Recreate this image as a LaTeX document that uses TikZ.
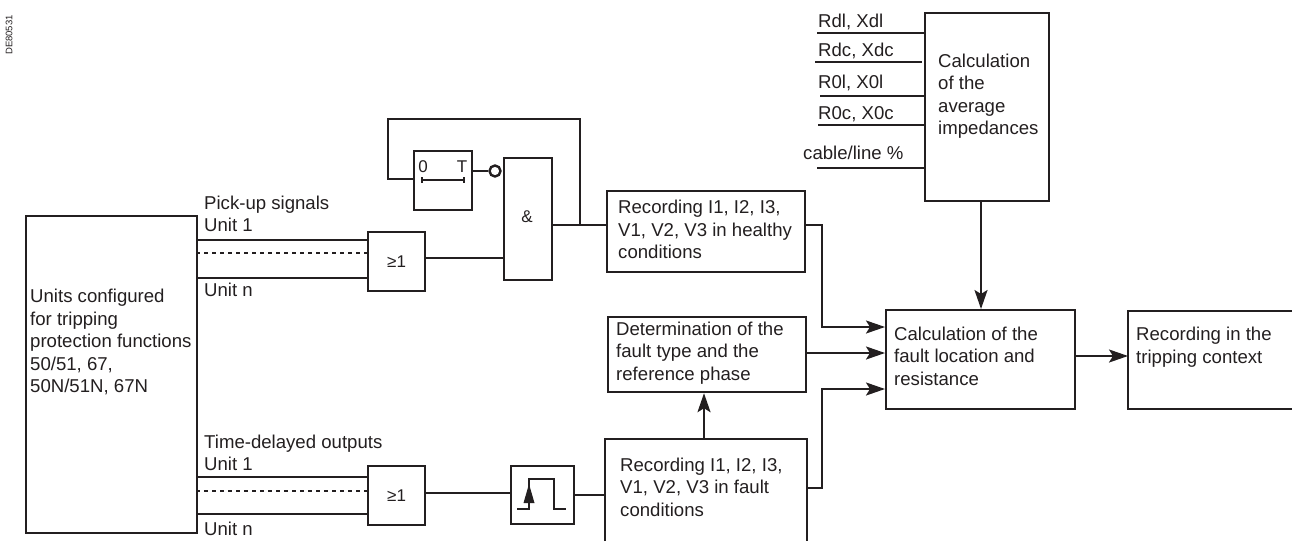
\documentclass[tikz,border=0pt]{standalone}
\usepackage{fontspec}
\setmainfont{Liberation Sans}
\usetikzlibrary{arrows.meta}
\definecolor{ink}{RGB}{35,31,32}
\tikzset{
 x=1pt,y=-1pt,
 box/.style={draw=ink,line width=2.2pt,inner sep=0pt,fill=white},
 wire/.style={draw=ink,line width=2.2pt},
 arrow/.style={wire,-{Stealth[length=19pt,width=13pt,inset=4pt]}},
 lbl/.style={inner sep=0pt,anchor=west,align=left,font=\fontsize{18.6}{22.5}\selectfont,text=ink},
 sym/.style={inner sep=0pt,anchor=center,font=\fontsize{17}{18}\selectfont,text=ink},
 thinwire/.style={draw=ink,line width=1.5pt},
}
\newcommand{\bx}[5]{\node[box,minimum width=#4pt-#2pt,minimum height=#5pt-#3pt,anchor=north west] (#1) at (#2,#3) {};}
\begin{document}
\begin{tikzpicture}
\useasboundingbox (0,0) rectangle (1292,541);
\bx{left}{25}{215}{196}{532}
\bx{ortop}{367}{231}{424}{290}
\bx{orbot}{367}{465}{424}{524}
\bx{timer}{413}{150}{471}{209}
\bx{and}{503}{157}{551}{279}
\bx{rech}{606}{190}{804}{271}
\bx{det}{607}{316}{805}{391}
\bx{pulse}{510}{465}{573}{523}
\bx{calc}{885}{309}{1074}{408}
\bx{avg}{924}{12}{1048}{200}
\coordinate (fl) at (605,541);
\coordinate (fr) at (807,541);
\coordinate (ftl) at (605,439);
\coordinate (ftr) at (807,439);
\draw[wire] (fl) -- (ftl) -- (ftr) -- (fr);
\coordinate (trt) at (1292,311);
\coordinate (trtl) at (1128,311);
\coordinate (trbl) at (1128,409);
\coordinate (trb) at (1292,409);
\draw[wire] (trt) -- (trtl) -- (trbl) -- (trb);
\node[lbl] (t1) at (30,342) {Units configured\\for tripping\\protection functions\\50/51, 67,\\50N/51N, 67N};
\node[sym] (or1t) at (ortop) {≥1};
\node[sym] (or2t) at (orbot) {≥1};
\node[sym] (andt) at (527,217) {\&};
\node[lbl] (t2) at (618,229.5) {Recording I1, I2, I3,\\V1, V2, V3 in healthy\\conditions};
\node[lbl] (t3) at (616,353) {Determination of the\\fault type and the\\reference phase};
\node[lbl] (t4) at (620,487) {Recording I1, I2, I3,\\V1, V2, V3 in fault\\conditions};
\node[lbl] (t5) at (894,356) {Calculation of the\\fault location and\\resistance};
\node[lbl] (t6) at (1136,347) {Recording in the\\tripping context};
\node[lbl] (t7) at (938,96) {Calculation\\of the\\average\\impedances};
\node[lbl] (t8) at (204,214) {Pick-up signals\\Unit 1};
\node[lbl] (t9) at (204,290) {Unit n};
\node[lbl] (t10) at (204,453) {Time-delayed outputs\\Unit 1};
\node[lbl] (t11) at (204,529) {Unit n};
\node[lbl] (i1) at (818,22) {Rdl, Xdl};
\node[lbl] (i2) at (818,51) {Rdc, Xdc};
\node[lbl] (i3) at (818,83) {R0l, X0l};
\node[lbl] (i4) at (818,114) {R0c, X0c};
\node[lbl] (i5) at (803,153) {cable/line \%};
\node[inner sep=0pt,rotate=90,font=\fontsize{9.5}{10}\selectfont,text=ink] (code) at (9,35) {DE80531};
% units wires
\coordinate (a1) at (196,240); \coordinate (a2) at (196,253); \coordinate (a3) at (196,278);
\coordinate (b1) at (196,477); \coordinate (b2) at (196,491); \coordinate (b3) at (196,514);
\draw[wire] (a1) -- (a1 -| ortop.west);
\draw[wire,line width=2pt,dash pattern=on 4pt off 4pt] (a2) -- (a2 -| ortop.west);
\draw[wire] (a3) -- (a3 -| ortop.west);
\draw[wire] (b1) -- (b1 -| orbot.west);
\draw[wire,line width=2pt,dash pattern=on 4pt off 4pt] (b2) -- (b2 -| orbot.west);
\draw[wire] (b3) -- (b3 -| orbot.west);
% logic
\coordinate (c1) at (424,258); \coordinate (c2) at (424,493); \coordinate (c3) at (573,495); \coordinate (c4) at (551,225);
\draw[wire] (c1) -- (c1 -| and.west);
\draw[wire] (c2) -- (c2 -| pulse.west);
\draw[wire] (c3) -- (c3 -| ftl);
\draw[wire] (c4) -- (c4 -| rech.west);
\coordinate (j) at (580,225);
\draw[wire] (j) -- (580,119) -- (388,119) -- (388,179) -- (388,179 -| timer.west);
\coordinate (c5) at (471,171);
\node[draw=ink,line width=2.4pt,circle,minimum size=11pt,inner sep=0pt,fill=white] (neg) at (495,171) {};
\draw[wire] (c5) -- (neg.west);
% timer symbol
\node[sym] (t0) at (423,167) {0};
\node[sym] (tT) at (462,167) {T};
\draw[thinwire] (422,180) -- (464,180);
\draw[wire] (422,177) -- (422,183);
\draw[wire] (464,177) -- (464,183);
% pulse symbol
\draw[thinwire] (517,509) -- (529,509) -- (529,479) -- (554,479) -- (554,509) -- (566,509);
\fill[ink] (529,484) -- (534.5,503) -- (523.5,503) -- cycle;
% outputs
\coordinate (d1) at (804,225); \coordinate (d2) at (805,353); \coordinate (d3) at (807,488);
\draw[arrow] (d1) -- (822,225) -- (822,327) -- (822,327 -| calc.west);
\draw[arrow] (d2) -- (d2 -| calc.west);
\draw[arrow] (d3) -- (822,488) -- (822,389) -- (822,389 -| calc.west);
\draw[arrow] (704,439) -- (det.south -| 704,0);
\draw[arrow] (avg.south -| 981,0) -- (calc.north -| 981,0);
\coordinate (d4) at (1074,356);
\draw[arrow] (d4) -- (d4 -| trtl);
\draw[wire] (817,33) -- (924,33);
\draw[wire] (815,62) -- (922,62);
\draw[wire] (820,96) -- (926,96);
\draw[wire] (818,125) -- (924,125);
\draw[wire] (817,168) -- (924,168);
\end{tikzpicture}
\end{document}
